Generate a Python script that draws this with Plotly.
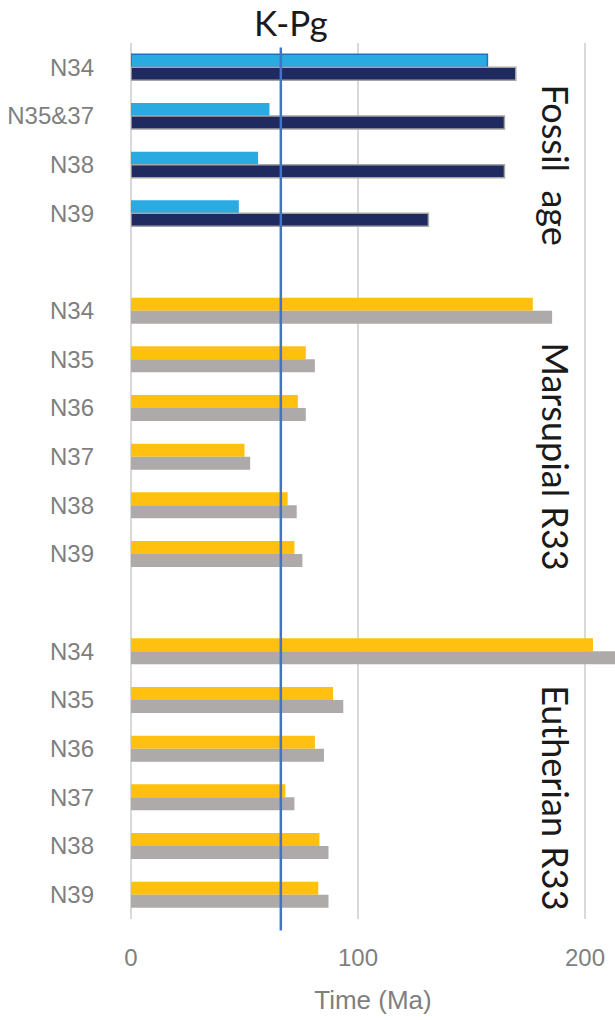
import plotly.graph_objects as go

# values (Ma)
fossil_labels = ['N34', 'N35&37', 'N38', 'N39']
fossil_min = [157, 61, 56, 47.5]
fossil_max = [169.5, 164.5, 164.5, 131]

marsupial_labels = ['N34', 'N35', 'N36', 'N37', 'N38', 'N39']
marsupial_a = [177, 77, 73.5, 50, 69, 72]
marsupial_b = [185.5, 81, 77, 52.5, 73, 75.5]

eutherian_labels = ['N34', 'N35', 'N36', 'N37', 'N38', 'N39']
eutherian_a = [203.5, 89, 81, 68, 83, 82.5]
eutherian_b = [218, 93.5, 85, 72, 87, 87]

group_names = ['Fossil  age', 'Marsupial R33', 'Eutherian R33']
K_PG = 66

LIGHT_BLUE = '#29ABE2'
NAVY = '#1F2A60'
YELLOW = '#FFC010'
GREY = '#AEAAAA'
LABEL_FONT = 'Liberation Sans, Arial, sans-serif'
TEXT_FONT = 'Lato, Open Sans, sans-serif'

groups = [
    (fossil_labels, fossil_min, fossil_max, LIGHT_BLUE, NAVY),
    (marsupial_labels, marsupial_a, marsupial_b, YELLOW, GREY),
    (eutherian_labels, eutherian_a, eutherian_b, YELLOW, GREY),
]

# lay the rows out with one blank row between groups
ypos, ticktext, top_x, bot_x, top_c, bot_c = [], [], [], [], [], []
top_lw, top_lc, bot_lw, bot_lc = [], [], [], []
group_centres = []
row = 0
for gi, (labs, a, b, ca, cb) in enumerate(groups):
    start = row
    for i, lab in enumerate(labs):
        ypos.append(row)
        ticktext.append(lab)
        top_x.append(a[i])
        bot_x.append(b[i])
        top_c.append(ca)
        bot_c.append(cb)
        first_fossil = gi == 0 and i == 0
        top_lw.append(1.5 if first_fossil else 0)
        top_lc.append('#1B75BB')
        bot_lw.append(1.5 if gi == 0 else 0)
        bot_lc.append('#A5A5A5')
        row += 1
    group_centres.append((start + row - 1) / 2 + 0.5)
    row += 1
last_row = max(ypos)

fig = go.Figure()
fig.add_trace(go.Bar(
    y=ypos, x=top_x, orientation='h',
    marker=dict(color=top_c, line=dict(width=top_lw, color=top_lc)),
    showlegend=False,
))
fig.add_trace(go.Bar(
    y=ypos, x=bot_x, orientation='h',
    marker=dict(color=bot_c, line=dict(width=bot_lw, color=bot_lc)),
    showlegend=False,
))

fig.add_shape(type='line', xref='x', yref='paper',
              x0=K_PG, x1=K_PG, y0=-0.013, y1=0.995,
              line=dict(color='#4472C4', width=2.5))

fig.add_annotation(text='K-Pg', xref='x', yref='paper', x=K_PG, y=1,
                   xshift=10, yshift=-2, yanchor='bottom', showarrow=False,
                   font=dict(family=TEXT_FONT, size=35, color='#1a1a1a'))

for name, yc in zip(group_names, group_centres):
    fig.add_annotation(text=name, xref='paper', yref='y', x=0.928, y=yc,
                       textangle=90, showarrow=False,
                       font=dict(family=TEXT_FONT, size=36, color='#1a1a1a'))

fig.update_layout(
    width=615, height=1020,
    margin=dict(l=131, r=0, t=43, b=101),
    barmode='group', bargap=0.466, bargroupgap=0,
    plot_bgcolor='white', paper_bgcolor='white',
)
fig.update_xaxes(
    range=[0, 213.2], tickvals=[0, 100, 200],
    showgrid=True, gridcolor='#D9D9D9', gridwidth=1.5,
    zeroline=True, zerolinecolor='#D9D9D9', zerolinewidth=1.5,
    showline=False, ticks='', ticklabelstandoff=22,
    tickfont=dict(family=LABEL_FONT, size=24, color='#7F7F7F'),
    title=dict(text='Time (Ma)', standoff=20,
               font=dict(family=LABEL_FONT, size=26, color='#7F7F7F')),
)
fig.update_yaxes(
    range=[last_row + 0.5, -0.5], tickvals=ypos, ticktext=ticktext,
    showgrid=False, zeroline=False, showline=False,
    ticks='', ticklabelstandoff=36,
    tickfont=dict(family=LABEL_FONT, size=24, color='#7F7F7F'),
)

fig.write_html('out.html', config={'displayModeBar': False},
               post_script="document.body.style.margin='0';"
                           "document.body.style.overflow='hidden';")
